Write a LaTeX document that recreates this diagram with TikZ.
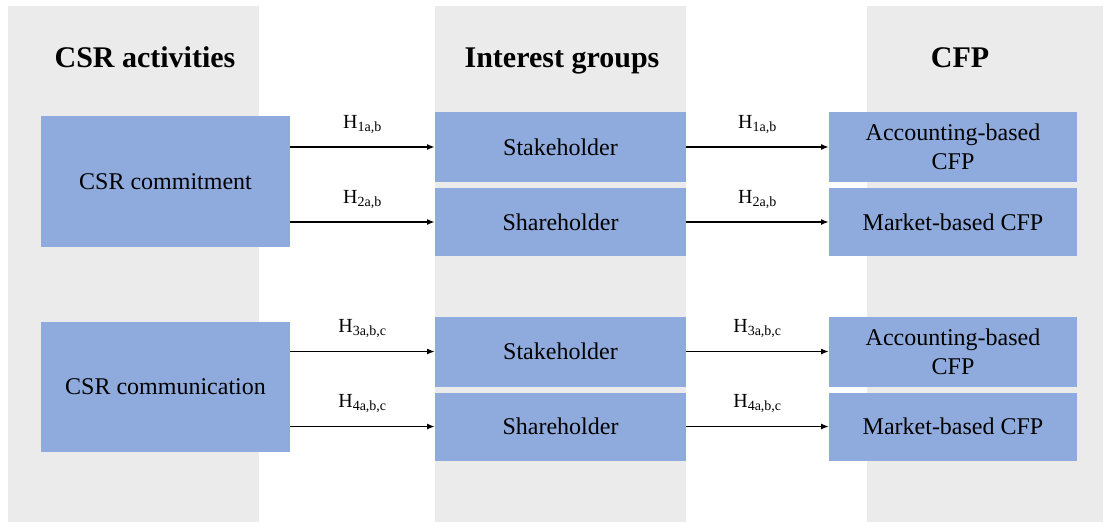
\documentclass[tikz,border=0pt]{standalone}
\usepackage{fontspec}
\setmainfont{Liberation Serif}
\usetikzlibrary{positioning,arrows.meta}
\definecolor{bandgray}{HTML}{EBEBEB}
\definecolor{boxblue}{HTML}{8FAADC}
\begin{document}
\begin{tikzpicture}[x=1pt,y=-1pt,
        band/.style = {fill=bandgray},
        box/.style = {fill=boxblue, inner sep=0pt, outer sep=0pt, align=center, font=\fontsize{24}{29}\selectfont},
        wide/.style = {box, minimum width=249pt, minimum height=131pt},
        mid/.style = {box, minimum width=251pt, minimum height=70pt},
        low/.style = {box, minimum width=251pt, minimum height=68pt},
        title/.style = {anchor=base, font=\fontsize{30}{36}\selectfont\bfseries},
        hyp/.style = {midway, anchor=base, yshift=19pt, inner sep=0pt, font=\fontsize{20}{24}\selectfont},
        link/.style = {-{Latex[length=8pt,width=6pt]}, line width=1.7pt}]
                \useasboundingbox (0,0) rectangle (1108,522);
                \fill[band] (8,6) rectangle (259,522);
                \fill[band] (435,6) rectangle (686,522);
                \fill[band] (867,6) rectangle (1103,522);

                \node[title] (t1) at (145,67) {CSR activities};
                \node[title] (t2) at (562,67) {Interest groups};
                \node[title] (t3) at (960,67) {CFP};

                \node[wide] (commit) at (165.5,181.5) {CSR commitment};
                \node[mid] (stake1) at (560.5,147) {Stakeholder};
                \node[low] (share1) [below=6pt of stake1] {Shareholder};
                \node[mid, minimum width=248pt] (acc1) at (953,147) {Accounting-based\\CFP};
                \node[low, minimum width=248pt] (mkt1) [below=6pt of acc1] {Market-based CFP};

                \node[wide, minimum height=130pt] (comm) at (165.5,387) {CSR communication};
                \node[mid] (stake2) at (560.5,351.5) {Stakeholder};
                \node[low] (share2) [below=6pt of stake2] {Shareholder};
                \node[mid, minimum width=248pt] (acc2) at (953,351.5) {Accounting-based\\CFP};
                \node[low, minimum width=248pt] (mkt2) [below=6pt of acc2] {Market-based CFP};

                \draw[link] (commit.east |- stake1.west) -- node[hyp] {H\textsubscript{1a,b}} (stake1.west);
                \draw[link] (commit.east |- share1.west) -- node[hyp] {H\textsubscript{2a,b}} (share1.west);
                \draw[link] (stake1.east) -- node[hyp] {H\textsubscript{1a,b}} (acc1.west);
                \draw[link] (share1.east) -- node[hyp] {H\textsubscript{2a,b}} (mkt1.west);
                \draw[link] (comm.east |- stake2.west) -- node[hyp] {H\textsubscript{3a,b,c}} (stake2.west);
                \draw[link] (comm.east |- share2.west) -- node[hyp] {H\textsubscript{4a,b,c}} (share2.west);
                \draw[link] (stake2.east) -- node[hyp] {H\textsubscript{3a,b,c}} (acc2.west);
                \draw[link] (share2.east) -- node[hyp] {H\textsubscript{4a,b,c}} (mkt2.west);
            \end{tikzpicture}
\end{document}
